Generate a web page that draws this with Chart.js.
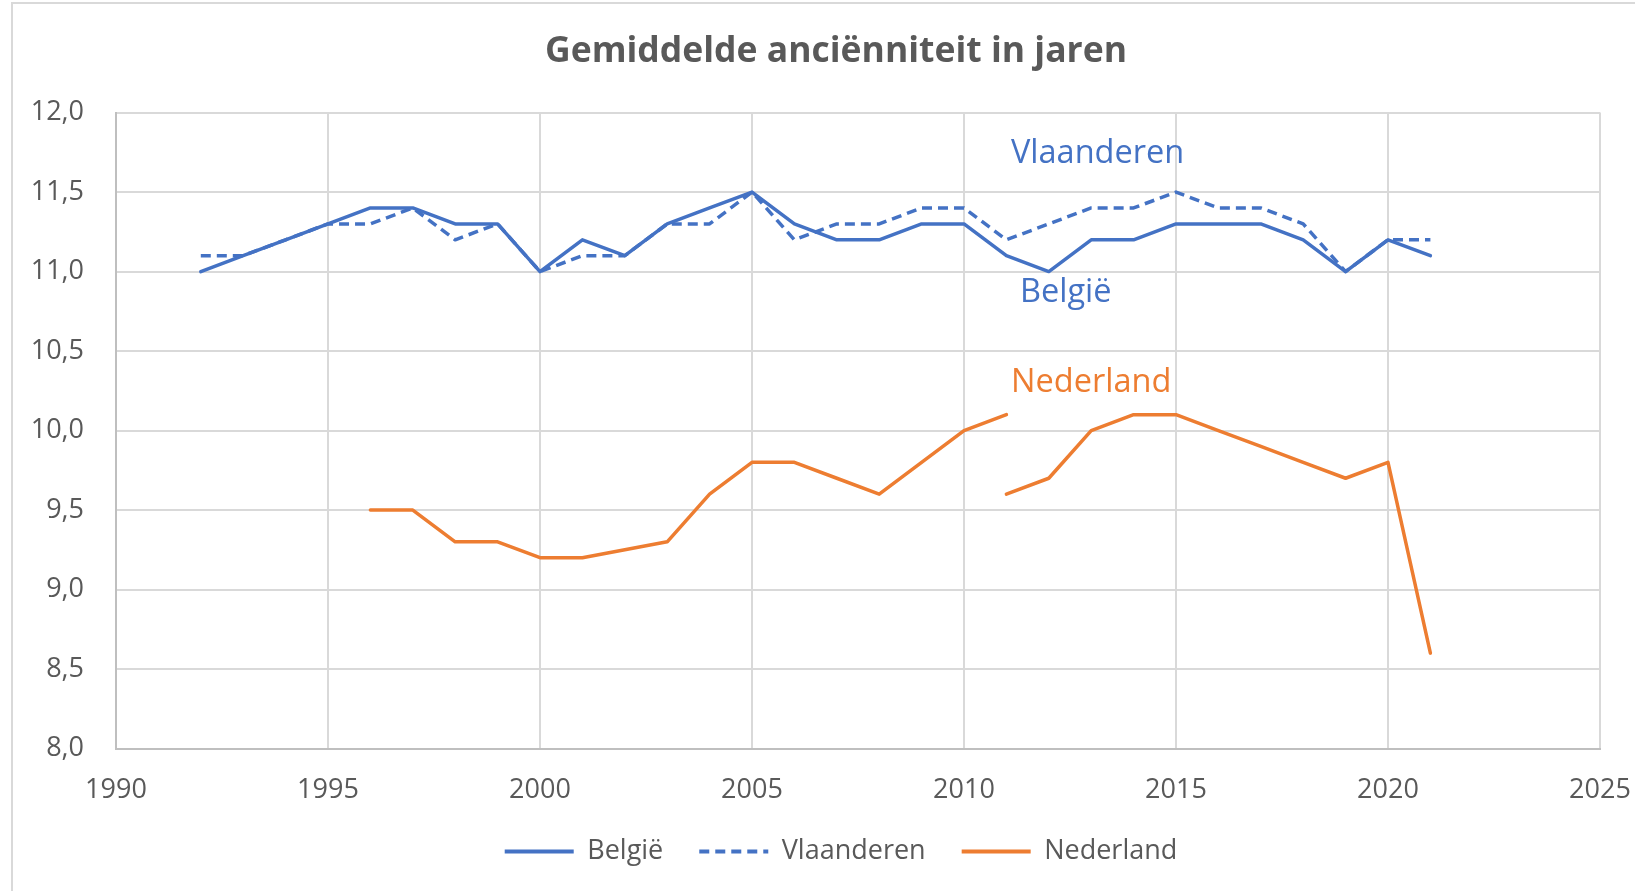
<!DOCTYPE html>
<html>
<head>
<meta charset="utf-8">
<script src="https://cdn.jsdelivr.net/npm/chart.js@4"></script>
<style>
  html, body { margin: 0; padding: 0; background: #fff; }
  #wrap { width: 1635px; height: 891px; }
</style>
</head>
<body>
<div id="wrap"><canvas id="line_chart" width="1635" height="891"></canvas></div>
<script>
const ctx = document.querySelector('#line_chart')

const years = [1992, 1993, 1994, 1995, 1996, 1997, 1998, 1999, 2000, 2001, 2002, 2003, 2004, 2005, 2006,
    2007, 2008, 2009, 2010, 2011, 2012, 2013, 2014, 2015, 2016, 2017, 2018, 2019, 2020, 2021];
const belgie = [11.0, 11.1, 11.2, 11.3, 11.4, 11.4, 11.3, 11.3, 11.0, 11.2, 11.1, 11.3, 11.4, 11.5, 11.3,
    11.2, 11.2, 11.3, 11.3, 11.1, 11.0, 11.2, 11.2, 11.3, 11.3, 11.3, 11.2, 11.0, 11.2, 11.1];
const vlaanderen = [11.1, 11.1, 11.2, 11.3, 11.3, 11.4, 11.2, 11.3, 11.0, 11.1, 11.1, 11.3, 11.3, 11.5, 11.2,
    11.3, 11.3, 11.4, 11.4, 11.2, 11.3, 11.4, 11.4, 11.5, 11.4, 11.4, 11.3, 11.0, 11.2, 11.2];
// Nederland has a break in 2011 (two series pieces)
const nlYears = [1996, 1997, 1998, 1999, 2000, 2001, 2002, 2003, 2004, 2005, 2006, 2007, 2008, 2009, 2010, 2011,
    2011, 2011, 2012, 2013, 2014, 2015, 2016, 2017, 2018, 2019, 2020, 2021];
const nederland = [9.5, 9.5, 9.3, 9.3, 9.2, 9.2, 9.25, 9.3, 9.6, 9.8, 9.8, 9.7, 9.6, 9.8, 10.0, 10.1,
    null, 9.6, 9.7, 10.0, 10.1, 10.1, 10.0, 9.9, 9.8, 9.7, 9.8, 8.6];

const seriesNames = ['België', 'Vlaanderen', 'Nederland'];
const xTicks = [1990, 1995, 2000, 2005, 2010, 2015, 2020, 2025];
const yTicks = [8.0, 8.5, 9.0, 9.5, 10.0, 10.5, 11.0, 11.5, 12.0];

// labels written inside the plot, at data coordinates
const inlineLabels = [
    { text: 'Vlaanderen', x: 2013.15, y: 11.74, color: '#4472C4' },
    { text: 'België', x: 2012.4, y: 10.87, color: '#4472C4' },
    { text: 'Nederland', x: 2013.0, y: 10.30, color: '#ED7D31' }
];

const blue = '#4472C4';
const orange = '#ED7D31';
const textGrey = '#595959';
const font = '"Open Sans", "Noto Sans", sans-serif';

const toPoints = (xs, ys) => xs.map((x, i) => ({ x: x, y: ys[i] }))

const frame = {
    id: 'frame',
    afterLayout(chart) {
        // title and legend sit a bit right of the canvas centre in the original
        chart.legend.left += 23.5
        chart.legend.right += 23.5
        chart.titleBlock.left += 18.5
        chart.titleBlock.right += 18.5
    },
    beforeDraw(chart) {
        const c = chart.ctx
        c.save()
        c.fillStyle = '#fff'
        c.fillRect(0, 0, chart.width, chart.height)
        c.strokeStyle = '#d9d9d9'
        c.lineWidth = 2
        c.beginPath()
        c.moveTo(12, chart.height)
        c.lineTo(12, 3)
        c.lineTo(chart.width, 3)
        c.stroke()
        c.restore()
    }
}

const textLabels = {
    id: 'textLabels',
    afterDatasetsDraw(chart) {
        const c = chart.ctx
        const xs = chart.scales.x, ys = chart.scales.y
        c.save()
        c.font = '32.5px ' + font
        c.textAlign = 'center'
        c.textBaseline = 'middle'
        inlineLabels.forEach(l => {
            c.fillStyle = l.color
            c.fillText(l.text, xs.getPixelForValue(l.x), ys.getPixelForValue(l.y))
        })
        c.restore()
    }
}

const common = {
    pointRadius: 0,
    pointHoverRadius: 0,
    borderWidth: 3.5,
    tension: 0,
    fill: false,
    borderCapStyle: 'round',
    borderJoinStyle: 'round',
    spanGaps: false
}

const data = {
    datasets: [
        { ...common, label: seriesNames[0], data: toPoints(years, belgie), borderColor: blue, backgroundColor: blue },
        { ...common, label: seriesNames[1], data: toPoints(years, vlaanderen), borderColor: blue, backgroundColor: blue, borderDash: [10, 6], borderCapStyle: 'butt' },
        { ...common, label: seriesNames[2], data: toPoints(nlYears, nederland), borderColor: orange, backgroundColor: orange }
    ]
};

const options = {
    responsive: false,
    animation: false,
    layout: {
        padding: { left: 0, right: 0, top: 0, bottom: 16 }
    },
    plugins: {
        title: {
            display: true,
            text: 'Gemiddelde anciënniteit in jaren',
            color: textGrey,
            font: { family: font, size: 35.5, weight: 'bold' },
            padding: { top: 31, bottom: 39 }
        },
        legend: {
            position: 'bottom',
            labels: {
                usePointStyle: true,
                pointStyle: 'line',
                pointStyleWidth: 69,
                color: textGrey,
                font: { family: font, size: 27 },
                padding: 36,
                generateLabels: chart => Chart.defaults.plugins.legend.labels.generateLabels(chart).map(item => {
                    const ds = chart.data.datasets[item.datasetIndex]
                    item.lineDash = ds.borderDash || []
                    item.lineWidth = 4
                    item.strokeStyle = ds.borderColor
                    item.lineCap = 'butt'
                    item.pointStyle = 'line'
                    return item
                })
            }
        },
        tooltip: { enabled: false }
    },
    scales: {
        x: {
            type: 'linear',
            min: 1990,
            max: 2025,
            afterBuildTicks: s => { s.ticks = xTicks.map(v => ({ value: v })) },
            grid: { color: '#d9d9d9', lineWidth: 2, drawTicks: false },
            border: { color: '#bfbfbf', width: 2 },
            ticks: {
                color: textGrey,
                font: { family: font, size: 27 },
                padding: 26,
                maxRotation: 0,
                callback: v => String(v)
            },
            afterFit: s => {
                s.height = 53.5
                s.paddingLeft = 0
                s.paddingRight = 35
            }
        },
        y: {
            min: 8,
            max: 12,
            afterBuildTicks: s => { s.ticks = yTicks.map(v => ({ value: v })) },
            grid: { color: '#d9d9d9', lineWidth: 2, drawTicks: false },
            border: { color: '#bfbfbf', width: 2 },
            ticks: {
                color: textGrey,
                font: { family: font, size: 27 },
                padding: 32,
                callback: v => v.toFixed(1).replace('.', ',')
            },
            afterFit: s => { s.width = 116 }
        }
    }
}

new Chart(ctx, {
    type: 'line',
    data: data,
    options: options,
    plugins: [frame, textLabels]
})
</script>
</body>
</html>
